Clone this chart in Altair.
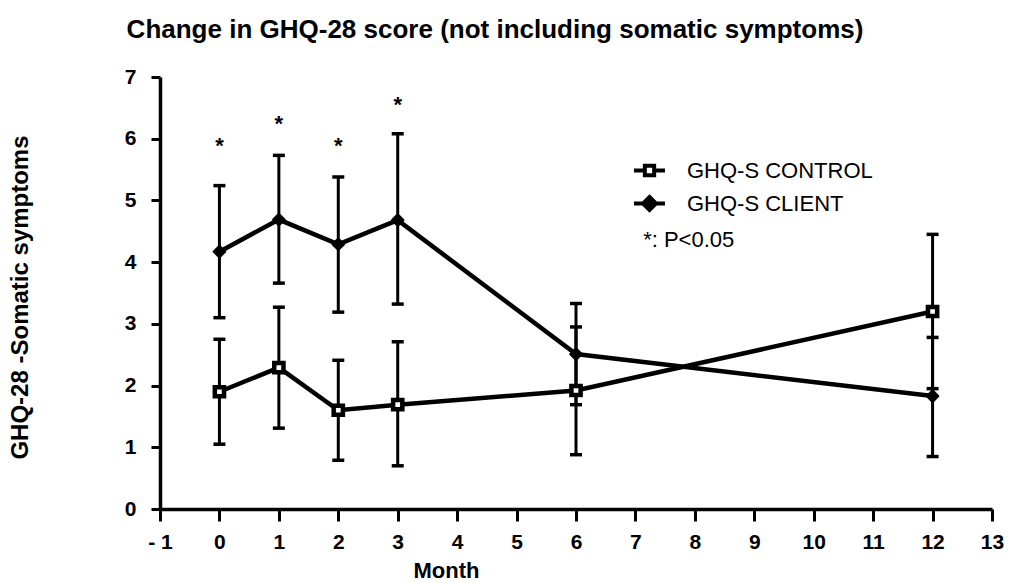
import altair as alt
import pandas as pd

# ---- data ----
months = [0, 1, 2, 3, 6, 12]
control_mean = [1.90, 2.29, 1.60, 1.69, 1.92, 3.20]
control_low = [1.05, 1.31, 0.79, 0.70, 0.88, 1.95]
control_high = [2.75, 3.27, 2.41, 2.71, 2.95, 4.45]
client_mean = [4.17, 4.69, 4.29, 4.68, 2.51, 1.83]
client_low = [3.10, 3.66, 3.19, 3.32, 1.69, 0.85]
client_high = [5.24, 5.73, 5.38, 6.08, 3.33, 2.78]
sig_months = [0, 1, 2, 3]
sig_y = [5.98, 6.34, 5.98, 6.65]
sig_mark = ["*", "*", "*", "*"]
series_names = ["GHQ-S CONTROL", "GHQ-S CLIENT"]
note_text = ["*: P<0.05"]
note_x = [7.13]
note_y = [4.36]

FONT = "Liberation Sans"

ctrl = pd.DataFrame({"month": months, "mean": control_mean, "low": control_low,
                     "high": control_high, "series": series_names[0]})
cli = pd.DataFrame({"month": months, "mean": client_mean, "low": client_low,
                    "high": client_high, "series": series_names[1]})
allp = pd.concat([ctrl, cli], ignore_index=True)
sig = pd.DataFrame({"month": sig_months, "val": sig_y, "mk": sig_mark})
note = pd.DataFrame({"t": note_text, "mx": note_x, "my": note_y})

x_ticks = [v / 2 for v in range(-2, 27)]
y_ticks = [v / 2 for v in range(0, 15)]

xscale = alt.Scale(domain=[-1, 13], nice=False, zero=False)
yscale = alt.Scale(domain=[0, 7], nice=False)

xaxis = alt.Axis(
    values=x_ticks, title="Month", labelFlush=False, labelOverlap=False,
    labelExpr="datum.value % 1 != 0 ? '' : (datum.value < 0 ? '- ' + abs(datum.value) : '' + datum.value)",
    grid=False, domainColor="black", domainWidth=3.5, tickColor="black", tickWidth=3,
    tickSize={"condition": {"test": "datum.value % 1 == 0", "value": 12}, "value": 8},
    labelPadding=10, labelFont=FONT, labelFontSize=21, labelFontWeight="bold", labelColor="black",
    titleFont=FONT, titleFontSize=22, titleFontWeight="bold", titleColor="black",
    titleX=286, titleY=68, titleAlign="center", titleBaseline="alphabetic",
)
yaxis = alt.Axis(
    values=y_ticks, title="GHQ-28 -Somatic symptoms", labelOverlap=False, labelFlush=False,
    labelExpr="datum.value % 1 != 0 ? '' : '' + datum.value",
    grid=False, domainColor="black", domainWidth=3.5, tickColor="black", tickWidth=3,
    tickSize={"condition": {"test": "datum.value % 1 == 0", "value": 9}, "value": 6},
    labelPadding=15, labelFont=FONT, labelFontSize=21, labelFontWeight="bold", labelColor="black",
    titleFont=FONT, titleFontSize=24, titleFontWeight="bold", titleColor="black",
    titleX=-140, titleY=220, titleAngle=-90, titleAlign="center", titleBaseline="middle",
)

base = alt.Chart(allp)

bars = base.mark_rule(color="black", strokeWidth=3, opacity=1).encode(
    x=alt.X("month:Q", scale=xscale, axis=xaxis),
    y=alt.Y("low:Q", scale=yscale, axis=yaxis),
    y2="high:Q",
)
caps_low = base.mark_tick(color="black", orient="horizontal", size=12, thickness=3.5, opacity=1).encode(
    x="month:Q", y="low:Q")
caps_high = base.mark_tick(color="black", orient="horizontal", size=12, thickness=3.5, opacity=1).encode(
    x="month:Q", y="high:Q")

lines = base.mark_line(color="black", strokeWidth=4.5).encode(
    x="month:Q", y="mean:Q", detail="series:N")

ctrl_pts = alt.Chart(ctrl).mark_point(
    shape="square", size=85, filled=False, fill="white", stroke="black", strokeWidth=4.5, opacity=1
).encode(x="month:Q", y="mean:Q")
cli_pts = alt.Chart(cli).mark_point(
    shape="diamond", size=120, filled=True, color="black", stroke="black", strokeWidth=2.5,
    strokeJoin="round", opacity=1
).encode(x="month:Q", y="mean:Q")

stars = alt.Chart(sig).mark_text(
    font=FONT, fontSize=22, fontWeight="bold", color="black", align="center",
    baseline="alphabetic", dy=13
).encode(x="month:Q", y="val:Q", text="mk:N")

note_layer = alt.Chart(note).mark_text(
    align="left", baseline="middle", font=FONT, fontSize=22, color="black"
).encode(x="mx:Q", y="my:Q", text="t:N")

path_ctrl = "M-1,0H-0.3M0.3,0H1M-0.3,-0.3H0.3V0.3H-0.3Z"
path_cli = "M-1,0H1M0,-0.42L0.42,0L0,0.42L-0.42,0Z"
legend_props = dict(
    title=None, orient="none", legendX=472, legendY=76, padding=0,
    symbolSize=961, symbolStrokeWidth=4, symbolOpacity=1,
    labelFont=FONT, labelFontSize=22, labelColor="black", labelOffset=20,
    rowPadding=2, labelLimit=400,
)
leg_scale = dict(domain=series_names)
legend_layer = alt.Chart(
    pd.DataFrame({"series": series_names, "month": [0, 0], "mean": [0, 0]})
).mark_point(
    size=961, strokeWidth=4, opacity=1
).encode(
    x="month:Q", y="mean:Q",
    shape=alt.Shape("series:N", scale=alt.Scale(range=[path_ctrl, path_cli], **leg_scale),
                    legend=alt.Legend(**legend_props)),
    fill=alt.Fill("series:N", scale=alt.Scale(range=["white", "black"], **leg_scale),
                  legend=alt.Legend(**legend_props)),
    stroke=alt.Stroke("series:N", scale=alt.Scale(range=["black", "black"], **leg_scale),
                      legend=alt.Legend(**legend_props)),
).transform_filter("false")

chart = alt.layer(
    bars, caps_low, caps_high, lines, ctrl_pts, cli_pts, stars, note_layer, legend_layer
).properties(
    width=832, height=432,
    autosize=alt.AutoSizeParams(type="none"),
    padding={"left": 160, "top": 77, "right": 26, "bottom": 74},
    title=alt.TitleParams(
        "Change in GHQ-28 score (not including somatic symptoms)",
        font=FONT, fontSize=26, fontWeight="bold", color="black",
        anchor="middle", dx=-81, offset=23,
    ),
).configure_view(stroke=None)

chart.save("out.html", embed_options={"renderer": "svg", "actions": False})
